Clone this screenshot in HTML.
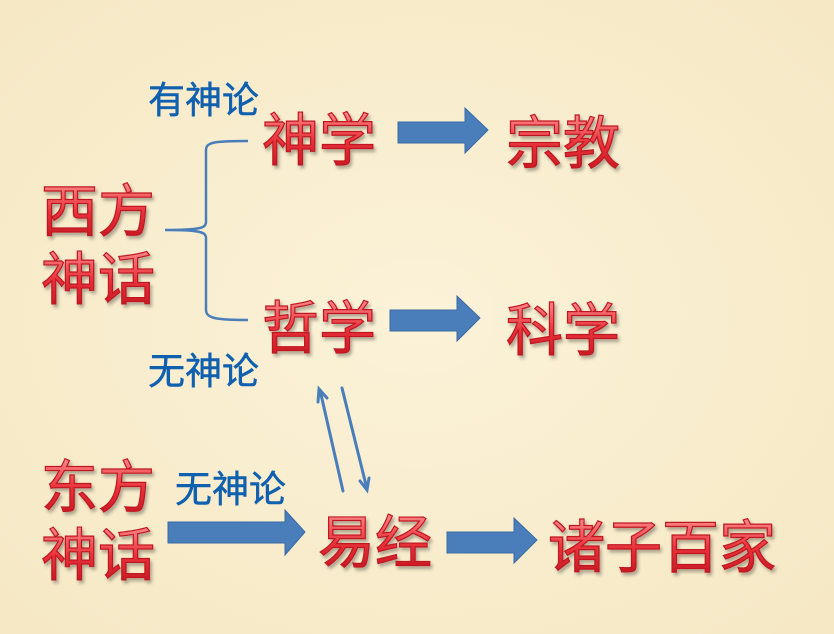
<!DOCTYPE html>
<html><head><meta charset="utf-8"><style>
html,body{margin:0;padding:0;}
body{width:834px;height:634px;overflow:hidden;background:#f7ebc9;}
svg{display:block;}
.r{font-family:"Liberation Sans","Noto Sans CJK SC",sans-serif;font-size:57px;font-weight:normal;fill:url(#rg);stroke:#c01820;stroke-width:1.2;filter:url(#sh);}
.b{font-family:"Liberation Sans","Noto Sans CJK SC",sans-serif;font-size:37px;fill:#1060b0;stroke:#1060b0;stroke-width:0.5;}
</style></head><body>
<svg width="834" height="634" viewBox="0 0 834 634">
<defs>
<linearGradient id="rg" x1="0" y1="0" x2="0" y2="1">
<stop offset="0" stop-color="#ff9090"/><stop offset="0.5" stop-color="#e8323a"/><stop offset="1" stop-color="#c0141e"/>
</linearGradient>
<filter id="sh" x="-10%" y="-10%" width="130%" height="140%"><feDropShadow dx="2" dy="3" stdDeviation="1.5" flood-color="#000" flood-opacity="0.3"/></filter>
<radialGradient id="bg" cx="0.5" cy="0.5" r="0.7"><stop offset="0" stop-color="#fbf2d8"/><stop offset="1" stop-color="#f6e8c4"/></radialGradient>
</defs>
<rect width="834" height="634" fill="url(#bg)"/>
<text x="148" y="113" class="b">有神论</text>
<text x="148" y="384" class="b">无神论</text>
<text x="175" y="502" class="b">无神论</text>
<text x="41" y="231" class="r">西方</text>
<text x="41" y="299" class="r">神话</text>
<text x="262" y="160" class="r">神学</text>
<text x="506" y="163" class="r">宗教</text>
<text x="262" y="348" class="r">哲学</text>
<text x="506" y="350" class="r">科学</text>
<text x="41" y="507" class="r">东方</text>
<text x="41" y="575" class="r">神话</text>
<text x="318" y="562" class="r">易经</text>
<text x="548" y="567" class="r">诸子百家</text>
<g fill="#4a7ebb" stroke="#3a6aa5" stroke-width="1">
<polygon points="398,122 465,122 465,108 488,130 465,153 465,143 398,143"/>
<polygon points="390,310 457,310 457,296 480,318 457,341 457,331 390,331"/>
<polygon points="168,522 285,522 285,510 305,532 285,555 285,543 168,543"/>
<polygon points="447,532 514,532 514,518 537,540 514,563 514,553 447,553"/>
</g>
<path d="M248,141 C215,141 206,142 206,150 L206,222 C206,228 200,230 165,230 C200,230 206,232 206,238 L206,310 C206,318 215,320 248,320" fill="none" stroke="#4a7ebb" stroke-width="2.5"/>
<g stroke="#4a7ebb" stroke-width="3" fill="none" stroke-linecap="round">
<line x1="343" y1="491" x2="320" y2="390"/>
<polyline points="318,402 319,389 327,398"/>
<line x1="342" y1="388" x2="367" y2="489"/>
<polyline points="360,481 367,490 369,478"/>
</g>
</svg>
</body></html>
